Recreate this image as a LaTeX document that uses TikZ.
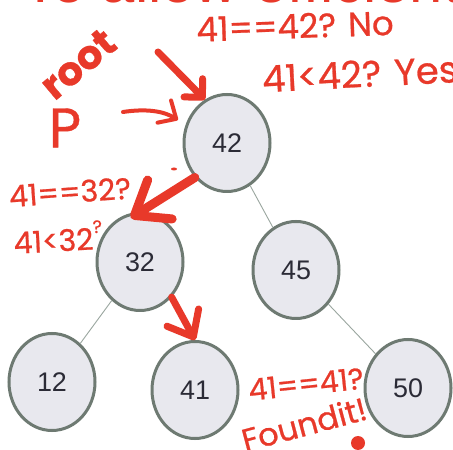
\documentclass[tikz,border=0pt]{standalone}
\usepackage{fontspec}
\setmainfont{Liberation Sans}
\newfontfamily\handfont[FakeBold=0.7]{Poppins}
\usetikzlibrary{shapes.geometric,arrows.meta}

\definecolor{penred}{HTML}{E8392A}
\definecolor{nodefill}{HTML}{E8E8EE}
\definecolor{nodeline}{HTML}{6E7A72}
\definecolor{nodetext}{HTML}{2B2B36}
\definecolor{edgegray}{HTML}{9AA69F}

\begin{document}
\begin{tikzpicture}[x=1bp, y=1bp,
	tnode/.style={ellipse, draw=nodeline, fill=nodefill, line width=3bp,
		minimum width=86bp, minimum height=97bp, inner sep=0pt,
		text=nodetext, font=\fontsize{27}{27}\selectfont},
	edge/.style={draw=edgegray, line width=0.9bp},
	pen/.style={penred, line cap=round, line join=round},
	hand/.style={text=penred, inner sep=0pt, font=\handfont\fontsize{#1}{#1}\selectfont}]

\fill[white] (0,0) rectangle (453,450);
\useasboundingbox (0,0) rectangle (453,450);

\node[anchor=base west, inner sep=0pt, text=penred, font=\fontsize{60}{60}\selectfont] (title) at (22,447) {To allow efficient};

% Arbol
\node[tnode] (n42) at (227,307) {42};
\node[tnode] (n32) at (140,188) {32};
\node[tnode] (n45) at (296,180) {45};
\node[tnode] (n12) at (52,68) {12};
\node[tnode] (n41) at (195,60) {41};
\node[tnode] (n50) at (408,62) {50};

	\foreach \a/\b in {n42/n45, n32/n12, n45/n50}
		\draw[edge] (\a) -- (\b);

% Flechas
\coordinate (rootstart) at (158,398);
\coordinate (pstart) at (123,338);

\draw[pen, line width=7bp, -{Straight Barb[round, length=13bp, width=26bp]}] (rootstart) -- (n42.117);
\draw[pen, line width=4bp, shorten >=9bp, -{Straight Barb[round, length=14bp, width=26bp]}] (pstart) to[bend left=20] (n42.156);
\draw[pen, line width=9bp, shorten >=-11bp, -{Straight Barb[round, length=30bp, width=46bp]}] (n42.227) -- (n32.north);
\draw[pen, line width=7bp, -{Straight Barb[round, length=22bp, width=36bp]}] (n32.312) -- (n41.north);

% Notas
\node[hand=34, rotate=2] (q1) at (295,424) {41==42? No};
\node[hand=37, rotate=3, anchor=west] (q2) at (262,371) {41<42? Yes};
\node[hand=40, rotate=40] (root) at (78,386) {\bfseries root};
\node[hand=56] (p) at (65,322) {P};
\node[hand=30, rotate=4] (q3) at (70,258) {41==32?};
\node[hand=30, rotate=3] (q4) at (58,213) {41<32\raisebox{0.55em}{\fontsize{18}{18}\selectfont ?}};
\node[hand=30, rotate=6] (q5) at (306,66) {41==41?};
\node[hand=32, rotate=15] (found) at (304,26) {Foundit!};

\fill[penred] (358,7) circle (7);
\fill[penred] (174,281) ellipse (3 and 1.5);
\end{tikzpicture}
\end{document}
